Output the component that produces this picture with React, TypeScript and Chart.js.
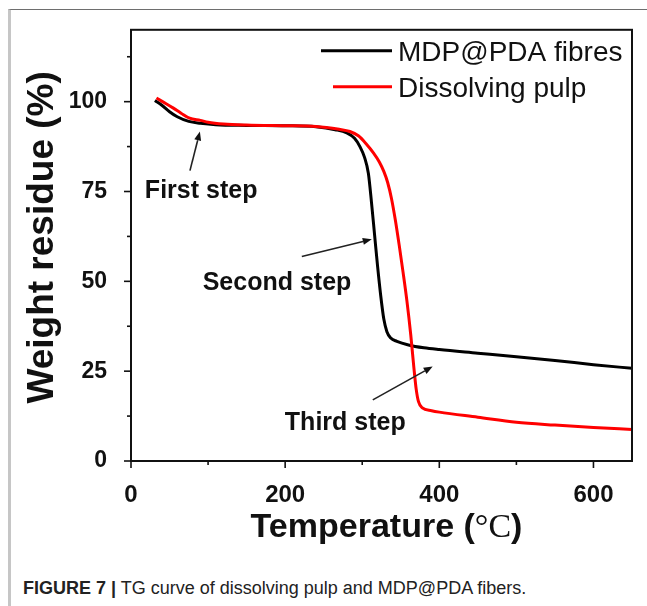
import { useEffect, useRef } from "react";
import { Chart, registerables } from "chart.js";

Chart.register(...registerables);

// TG curves: temperature (°C) and weight residue (%)
const fibreTemp = [31, 40, 50, 60, 75, 90, 110, 150, 200, 240, 265, 280, 290, 297, 303, 308, 312, 316, 320, 324, 328, 332, 337, 345, 360, 380, 400, 450, 500, 550, 600, 650];
const fibreResidue = [100.3, 99.0, 97.2, 95.8, 94.5, 94.0, 93.6, 93.4, 93.3, 93.0, 92.2, 91.3, 89.8, 87.5, 84.5, 80.0, 72.0, 63.0, 54.0, 46.0, 39.5, 36.0, 34.2, 33.3, 32.3, 31.5, 31.0, 30.0, 29.0, 28.0, 26.8, 25.8];

const pulpTemp = [33, 45, 55, 65, 76, 90, 100, 120, 150, 200, 240, 270, 284, 295, 305, 315, 322, 328, 333, 338, 343, 348, 353, 358, 363, 367, 370, 373, 378, 390, 400, 450, 500, 550, 600, 650];
const pulpResidue = [101.0, 99.5, 98.2, 96.8, 95.4, 94.8, 94.3, 93.8, 93.5, 93.3, 93.1, 92.3, 91.7, 90.5, 88.3, 85.6, 83.3, 80.6, 77.5, 73.0, 67.0, 60.0, 52.5, 44.5, 35.0, 26.0, 20.0, 16.5, 14.8, 14.0, 13.6, 12.2, 10.8, 10.0, 9.3, 8.8];

const seriesNames = ["MDP@PDA fibres", "Dissolving pulp"];
const seriesColors = ["#000000", "#ff0000"];

// axis ticks
const xTickValues = [0, 100, 200, 300, 400, 500, 600];
const xLabelValues = [0, 200, 400, 600];
const yTickValues = [0, 12.5, 25, 37.5, 50, 62.5, 75, 87.5, 100, 112.5];
const yLabelValues = [0, 25, 50, 75, 100];

const yTitle = "Weight residue (%)";

// decomposition step notes (text anchor and arrow, in data units)
const stepNotes = [
  { text: "First step", at: [18, 73.3], from: [76.5, 80.8], to: [89.4, 91.7] },
  { text: "Second step", at: [93, 47.7], from: [221.6, 56.9], to: [312.4, 61.7] },
  { text: "Third step", at: [199.6, 8.6], from: [313.7, 17], to: [391.4, 26.3] },
];

const INK = "#111111";
const SANS = '"Liberation Sans", Arial, Helvetica, sans-serif';
const SERIF = '"Liberation Serif", "Times New Roman", serif';

const toPoints = (xs: number[], ys: number[]) => xs.map((x, i) => ({ x, y: ys[i] }));

function drawArrow(ctx: CanvasRenderingContext2D, x1: number, y1: number, x2: number, y2: number) {
  const ang = Math.atan2(y2 - y1, x2 - x1);
  const head = 9;
  const half = 3.5;
  const bx = x2 - head * Math.cos(ang);
  const by = y2 - head * Math.sin(ang);
  ctx.beginPath();
  ctx.moveTo(x1, y1);
  ctx.lineTo(bx, by);
  ctx.stroke();
  ctx.beginPath();
  ctx.moveTo(x2, y2);
  ctx.lineTo(bx + half * Math.sin(ang), by - half * Math.cos(ang));
  ctx.lineTo(bx - half * Math.sin(ang), by + half * Math.cos(ang));
  ctx.closePath();
  ctx.fill();
}

const decorPlugin = {
  id: "tgDecor",
  afterDatasetsDraw(chart: any) {
    const { ctx, chartArea: a, scales } = chart;
    const xs = scales.x;
    const ys = scales.y;
    ctx.save();

    // plot frame
    ctx.strokeStyle = INK;
    ctx.lineWidth = 2;
    ctx.strokeRect(a.left, a.top, a.right - a.left, a.bottom - a.top);

    // outward tick marks, long for labelled ticks
    ctx.lineWidth = 1.6;
    xTickValues.forEach((v) => {
      const px = xs.getPixelForValue(v);
      const len = xLabelValues.includes(v) ? 7 : 4;
      ctx.beginPath();
      ctx.moveTo(px, a.bottom);
      ctx.lineTo(px, a.bottom + len);
      ctx.stroke();
    });
    yTickValues.forEach((v) => {
      const py = ys.getPixelForValue(v);
      const len = yLabelValues.includes(v) ? 7 : 4;
      ctx.beginPath();
      ctx.moveTo(a.left, py);
      ctx.lineTo(a.left - len, py);
      ctx.stroke();
    });

    // legend inside the plot, top right
    ctx.textBaseline = "alphabetic";
    ctx.textAlign = "left";
    ctx.font = `28px ${SANS}`;
    const legendRows = [
      { y: a.top + 21, x0: a.left + 190 },
      { y: a.top + 57, x0: a.left + 202 },
    ];
    seriesNames.forEach((name, i) => {
      const row = legendRows[i];
      ctx.strokeStyle = seriesColors[i];
      ctx.lineWidth = 3;
      ctx.beginPath();
      ctx.moveTo(row.x0, row.y);
      ctx.lineTo(a.left + 261, row.y);
      ctx.stroke();
      ctx.fillStyle = INK;
      ctx.fillText(name, a.left + 267, row.y + 10);
    });

    // step notes with arrows
    ctx.font = `bold 25px ${SANS}`;
    ctx.fillStyle = INK;
    ctx.strokeStyle = "#222";
    ctx.lineWidth = 1.6;
    stepNotes.forEach((n) => {
      ctx.fillText(n.text, xs.getPixelForValue(n.at[0]), ys.getPixelForValue(n.at[1]));
      drawArrow(
        ctx,
        xs.getPixelForValue(n.from[0]),
        ys.getPixelForValue(n.from[1]),
        xs.getPixelForValue(n.to[0]),
        ys.getPixelForValue(n.to[1])
      );
    });

    // y axis title, rotated
    ctx.save();
    ctx.translate(53, (a.top + a.bottom) / 2 - 8);
    ctx.rotate(-Math.PI / 2);
    ctx.font = `bold 37px ${SANS}`;
    ctx.textAlign = "center";
    ctx.textBaseline = "alphabetic";
    ctx.fillText(yTitle, 0, 0);
    ctx.restore();

    // x axis title with a serif degree-Celsius unit
    const parts = [
      { t: "Temperature (", f: `bold 34px ${SANS}` },
      { t: "°C", f: `34px ${SERIF}` },
      { t: ")", f: `bold 34px ${SANS}` },
    ];
    let total = 0;
    parts.forEach((p) => {
      ctx.font = p.f;
      total += ctx.measureText(p.t).width;
    });
    let tx = (a.left + a.right) / 2 + 5 - total / 2;
    const ty = a.bottom + 76;
    ctx.textAlign = "left";
    parts.forEach((p) => {
      ctx.font = p.f;
      ctx.fillText(p.t, tx, ty);
      tx += ctx.measureText(p.t).width;
    });

    ctx.restore();
  },
};

export default function App() {
  const canvasRef = useRef<HTMLCanvasElement | null>(null);

  useEffect(() => {
    if (!canvasRef.current) return;
    const chart = new Chart(canvasRef.current, {
      type: "line",
      data: {
        datasets: [
          {
            label: seriesNames[0],
            data: toPoints(fibreTemp, fibreResidue),
            borderColor: seriesColors[0],
            borderWidth: 3,
            pointRadius: 0,
            cubicInterpolationMode: "monotone",
            order: 1,
          },
          {
            label: seriesNames[1],
            data: toPoints(pulpTemp, pulpResidue),
            borderColor: seriesColors[1],
            borderWidth: 3,
            pointRadius: 0,
            cubicInterpolationMode: "monotone",
            order: 0,
          },
        ],
      },
      options: {
        animation: false,
        responsive: true,
        maintainAspectRatio: false,
        layout: { padding: { top: 29, right: 15, left: 0, bottom: 0 } },
        plugins: { legend: { display: false }, tooltip: { enabled: false } },
        scales: {
          x: {
            type: "linear",
            min: 0,
            max: 650,
            grid: { display: false },
            border: { display: false },
            afterBuildTicks: (s: any) => {
              s.ticks = xTickValues.map((v) => ({ value: v }));
            },
            afterFit: (s: any) => {
              s.height = 87;
            },
            ticks: {
              autoSkip: false,
              maxRotation: 0,
              padding: 12,
              color: INK,
              font: { family: SANS, size: 24, weight: "bold" },
              callback: (v: any) => (xLabelValues.includes(Number(v)) ? String(v) : ""),
            },
          },
          y: {
            type: "linear",
            min: 0,
            max: 120,
            grid: { display: false },
            border: { display: false },
            afterBuildTicks: (s: any) => {
              s.ticks = yTickValues.map((v) => ({ value: v }));
            },
            afterFit: (s: any) => {
              s.width = 131;
            },
            ticks: {
              autoSkip: false,
              padding: 16,
              color: INK,
              font: { family: SANS, size: 23, weight: "bold" },
              callback: (v: any) => (yLabelValues.includes(Number(v)) ? String(v) : ""),
            },
          },
        },
      },
      plugins: [decorPlugin],
    });
    return () => chart.destroy();
  }, []);

  return (
    <div
      style={{
        position: "absolute",
        left: 0,
        top: 0,
        width: 647,
        height: 606,
        background: "#fff",
        overflow: "hidden",
      }}
    >
      <div
        style={{
          position: "absolute",
          left: 8,
          top: 9,
          width: 700,
          height: 700,
          borderLeft: "3px solid #c6c6c6",
          borderTop: "1px solid #6e6e6e",
        }}
      />
      <div style={{ position: "absolute", left: 0, top: 0, width: 647, height: 548 }}>
        <canvas ref={canvasRef} />
      </div>
      <div
        style={{
          position: "absolute",
          left: 23,
          top: 578,
          fontFamily: SANS,
          fontSize: 18,
          color: "#222",
          whiteSpace: "nowrap",
        }}
      >
        <b>FIGURE 7 |</b> TG curve of dissolving pulp and MDP@PDA fibers.
      </div>
    </div>
  );
}
